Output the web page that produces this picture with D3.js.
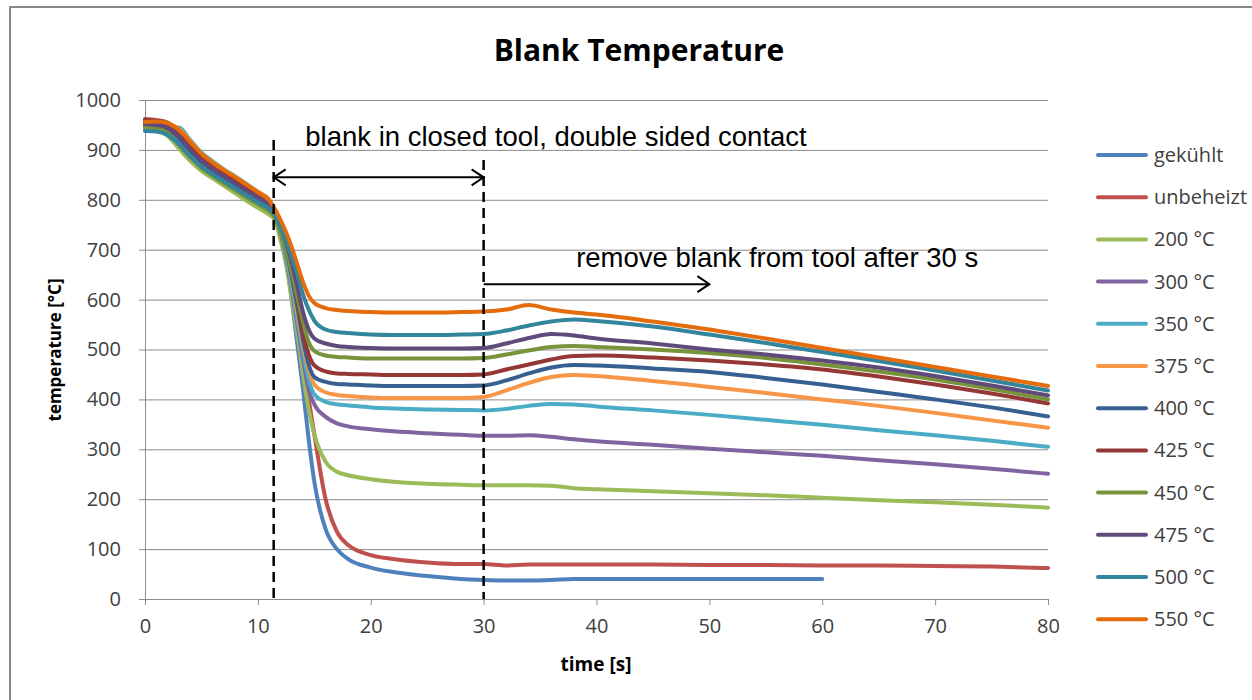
<!DOCTYPE html>
<html>
<head>
<meta charset="utf-8">
<script src="https://cdn.jsdelivr.net/npm/d3@7"></script>
<style>
  body { margin: 0; background: #fff; }
  text { font-family: "Open Sans", sans-serif; }
</style>
</head>
<body>
<div class="canvas"></div>
<script>
// time axis (s) shared by all series
const times = [0, 1, 2, 3, 4, 5, 6, 7, 8, 9, 10, 11, 11.5, 12, 12.5, 13, 13.5, 14, 14.5, 15, 16, 17, 18, 20, 22, 25, 28, 30, 32, 34, 36, 38, 40, 45, 50, 55, 60, 65, 70, 75, 80];

const seriesNames = ['gekühlt', 'unbeheizt', '200 °C', '300 °C', '350 °C', '375 °C', '400 °C', '425 °C', '450 °C', '475 °C', '500 °C', '550 °C'];
const seriesColors = ['#4F81BD', '#C0504D', '#9BBB59', '#8064A2', '#4BACC6', '#F79646', '#376092', '#953735', '#77933C', '#604A7B', '#31859C', '#E46C0A'];

const gekuehlt = [945, 944, 938, 918, 893, 872, 856, 842, 828, 814, 800, 786, 765, 730, 680, 600, 510, 420, 320, 235, 140, 100, 80, 63, 54, 46, 40, 38, 37, 37, 38, 40, 40, 40, 40, 40, 40, null, null, null, null];
const unbeheizt = [962, 960, 955, 935, 905, 882, 865, 850, 836, 822, 808, 794, 775, 740, 695, 630, 555, 475, 400, 330, 200, 135, 108, 88, 80, 73, 70, 70, 67, 69, 69, 69, 69, 69, 68, 68, 67, 67, 66, 65, 62];
const t200 = [942, 940, 928, 903, 878, 858, 843, 828, 813, 798, 784, 770, 760, 720, 670, 600, 530, 450, 380, 330, 275, 255, 248, 240, 235, 231, 229, 228, 228, 228, 227, 222, 220, 216, 212, 208, 203, 198, 194, 189, 183];
const t300 = [955, 953, 946, 928, 902, 880, 863, 848, 834, 820, 806, 791, 770, 735, 685, 620, 550, 480, 420, 390, 365, 352, 346, 340, 336, 332, 329, 327, 327, 328, 325, 320, 316, 309, 301, 294, 287, 278, 270, 261, 251];
const t350 = [940, 942, 945, 945, 920, 895, 877, 861, 847, 832, 816, 800, 775, 740, 690, 625, 560, 495, 440, 410, 395, 390, 388, 384, 382, 380, 379, 378, 381, 387, 391, 390, 386, 378, 369, 359, 349, 338, 328, 317, 305];
const t375 = [958, 957, 952, 942, 918, 893, 875, 860, 846, 831, 816, 800, 780, 745, 700, 640, 575, 510, 460, 430, 414, 409, 407, 404, 403, 403, 403, 405, 418, 433, 445, 449, 447, 437, 425, 413, 400, 387, 373, 358, 343];
const t400 = [950, 949, 942, 925, 898, 876, 859, 844, 830, 816, 802, 788, 772, 740, 700, 645, 585, 520, 470, 445, 435, 431, 430, 428, 427, 427, 427, 428, 438, 452, 464, 469, 468, 462, 455, 443, 430, 415, 400, 384, 366];
const t425 = [960, 958, 952, 936, 910, 886, 868, 852, 838, 824, 810, 795, 778, 748, 710, 660, 600, 535, 490, 468, 456, 452, 451, 450, 449, 449, 449, 450, 460, 470, 480, 487, 488, 484, 478, 470, 460, 446, 430, 412, 392];
const t450 = [946, 944, 934, 910, 885, 864, 848, 833, 819, 805, 791, 777, 765, 735, 700, 655, 605, 555, 515, 497, 488, 485, 484, 482, 482, 482, 482, 483, 490, 498, 505, 507, 505, 500, 493, 483, 470, 456, 440, 421, 400];
const t475 = [952, 950, 944, 926, 900, 878, 861, 846, 832, 818, 804, 790, 775, 748, 715, 675, 625, 575, 540, 522, 512, 507, 505, 503, 502, 502, 502, 503, 512, 523, 531, 528, 522, 512, 500, 490, 478, 464, 447, 428, 408];
const t500 = [938, 937, 930, 912, 888, 867, 851, 837, 823, 809, 795, 782, 770, 745, 718, 685, 650, 610, 580, 558, 540, 535, 533, 530, 529, 529, 530, 531, 538, 548, 556, 560, 557, 546, 530, 513, 495, 477, 458, 438, 418];
const t550 = [956, 957, 954, 940, 916, 892, 874, 859, 845, 830, 815, 799, 782, 760, 735, 705, 670, 635, 608, 593, 583, 579, 577, 575, 574, 574, 575, 576, 580, 589, 580, 574, 570, 556, 540, 522, 503, 484, 465, 446, 427];

const seriesValues = [gekuehlt, unbeheizt, t200, t300, t350, t375, t400, t425, t450, t475, t500, t550];

const xTicks = [0, 10, 20, 30, 40, 50, 60, 70, 80];
const yTicks = [0, 100, 200, 300, 400, 500, 600, 700, 800, 900, 1000];

const svg = d3.select('.canvas')
    .append('svg')
    .attr('width', 1252)
    .attr('height', 700);

// chart frame
svg.append('rect')
    .attr('x', 10).attr('y', 7)
    .attr('width', 1260).attr('height', 720)
    .attr('fill', '#fff')
    .attr('stroke', '#878787')
    .attr('stroke-width', 2);

const margin = { top: 100, left: 145 };
const graphWidth = 1048 - 145;
const graphHeight = 599 - 100;

const graph = svg.append('g')
    .attr('transform', `translate(${margin.left}, ${margin.top})`);

const x = d3.scaleLinear().domain([0, 80]).range([0, graphWidth]);
const y = d3.scaleLinear().domain([0, 1000]).range([graphHeight, 0]);

// gridlines
graph.append('g')
    .call(d3.axisLeft(y).tickValues(yTicks).tickSize(-graphWidth).tickFormat(''))
    .call(g => g.select('.domain').remove())
    .selectAll('line')
    .attr('stroke', '#8c8c8c');

// axes
const xAxisGroup = graph.append('g')
    .attr('transform', `translate(0, ${graphHeight})`)
    .call(d3.axisBottom(x).tickValues(xTicks).tickSize(6).tickPadding(14));
const yAxisGroup = graph.append('g')
    .call(d3.axisLeft(y).tickValues(yTicks).tickFormat(d3.format('d')).tickSize(6).tickPadding(18));

[xAxisGroup, yAxisGroup].forEach(g => {
    g.selectAll('line, .domain').attr('stroke', '#8c8c8c');
    g.selectAll('text')
        .attr('font-size', 20)
        .attr('fill', '#404040')
        .style('font-family', '"Open Sans", sans-serif');
});

// series lines
const line = d3.line()
    .defined(d => d[1] !== null)
    .x(d => x(d[0]))
    .y(d => y(d[1]))
    .curve(d3.curveMonotoneX);

seriesValues.forEach((vals, i) => {
    graph.append('path')
        .datum(times.map((t, j) => [t, vals[j]]))
        .attr('fill', 'none')
        .attr('stroke', seriesColors[i])
        .attr('stroke-width', 4)
        .attr('stroke-linejoin', 'round')
        .attr('stroke-linecap', 'round')
        .attr('d', line);
});

// annotations
const tClose = 11.4, tOpen = 30;
[[tClose, 920], [tOpen, 880]].forEach(([t, top]) => {
    graph.append('line')
        .attr('x1', x(t)).attr('x2', x(t))
        .attr('y1', y(top)).attr('y2', y(0))
        .attr('stroke', '#000')
        .attr('stroke-width', 2.5)
        .attr('stroke-dasharray', '10,6');
});

const arrowHead = (px, py, dir) => `M${px - dir * 12},${py - 8} L${px},${py} L${px - dir * 12},${py + 8}`;

const a1y = y(845);
graph.append('line')
    .attr('x1', x(tClose)).attr('x2', x(tOpen))
    .attr('y1', a1y).attr('y2', a1y)
    .attr('stroke', '#000').attr('stroke-width', 2);
graph.append('path').attr('d', arrowHead(x(tClose), a1y, -1))
    .attr('fill', 'none').attr('stroke', '#000').attr('stroke-width', 2);
graph.append('path').attr('d', arrowHead(x(tOpen), a1y, 1))
    .attr('fill', 'none').attr('stroke', '#000').attr('stroke-width', 2);

const a2y = y(631);
graph.append('line')
    .attr('x1', x(tOpen)).attr('x2', x(50))
    .attr('y1', a2y).attr('y2', a2y)
    .attr('stroke', '#000').attr('stroke-width', 2);
graph.append('path').attr('d', arrowHead(x(50), a2y, 1))
    .attr('fill', 'none').attr('stroke', '#000').attr('stroke-width', 2);

graph.append('text')
    .attr('x', x(14.2)).attr('y', y(908))
    .attr('font-size', 27.5)
    .attr('fill', '#000')
    .style('font-family', '"Liberation Sans", Arial, sans-serif')
    .text('blank in closed tool, double sided contact');

graph.append('text')
    .attr('x', x(38.2)).attr('y', y(666))
    .attr('font-size', 27.5)
    .attr('fill', '#000')
    .style('font-family', '"Liberation Sans", Arial, sans-serif')
    .text('remove blank from tool after 30 s');

// titles
svg.append('text')
    .attr('x', 639).attr('y', 61)
    .attr('text-anchor', 'middle')
    .attr('font-size', 30)
    .attr('font-weight', 'bold')
    .text('Blank Temperature');

svg.append('text')
    .attr('x', 596).attr('y', 671)
    .attr('text-anchor', 'middle')
    .attr('font-size', 19)
    .attr('font-weight', 'bold')
    .text('time [s]');

svg.append('text')
    .attr('transform', 'translate(61, 350) rotate(-90)')
    .attr('text-anchor', 'middle')
    .attr('font-size', 17)
    .attr('font-weight', 'bold')
    .text('temperature [°C]');

// legend
const legend = svg.append('g').attr('transform', 'translate(1098, 155)');
seriesNames.forEach((name, i) => {
    const row = legend.append('g').attr('transform', `translate(0, ${i * 42.2})`);
    row.append('line')
        .attr('x1', 0).attr('x2', 48)
        .attr('stroke', seriesColors[i])
        .attr('stroke-width', 4)
        .attr('stroke-linecap', 'round');
    row.append('text')
        .attr('x', 56).attr('y', 7)
        .attr('font-size', 20)
        .attr('fill', '#404040')
        .text(name);
});
</script>
</body>
</html>
